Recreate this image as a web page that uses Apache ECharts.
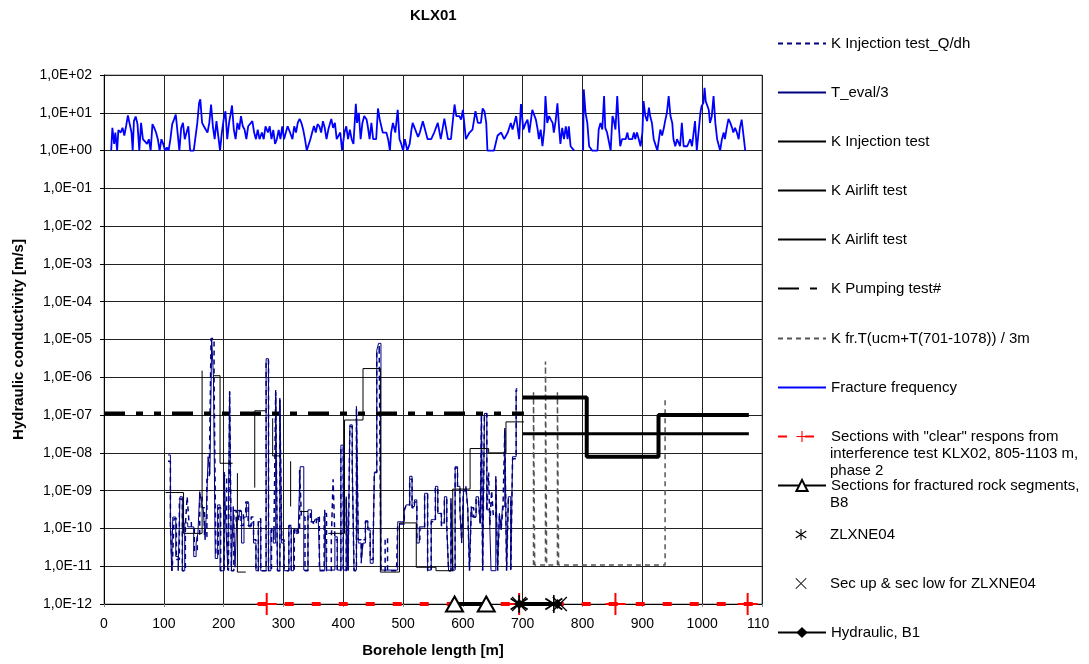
<!DOCTYPE html>
<html>
<head>
<meta charset="utf-8">
<script src="https://cdn.jsdelivr.net/npm/echarts@6/dist/echarts.min.js"></script>
<style>
html,body{margin:0;padding:0;background:#fff;}
#chart{width:1089px;height:664px;}
</style>
</head>
<body>
<div id="chart"></div>
<script>
// ---------- DATA ----------
const xTicks = [0,100,200,300,400,500,600,700,800,900,1000,1100];

// Fracture frequency (top, bright blue) [borehole length m, value]
const fractureFrequency = [
[12,1],[14,4],[17,1.5],[19,3],[22,1],[24,3.5],[28,3],[31,4],[34,2.5],[37,4.5],[40,8.5],[43,5],[46,3],[48,1],[50,6],[53,8],[56,5],[59,1],[62,5.4],[65,2],[68,2],[72,1.5],[75,2],[78,1],[81,5],[84,4],[87,3],[90,2],[93,1],[96,2],[99,1.5],[102,1],[105,1.2],[108,1],[111,2],[114,5],[117,6.6],[120,9],[123,3],[126,1],[129,4],[132,5.4],[135,2],[138,3],[141,4.4],[144,1],[147,1],[150,1],[153,1],[156,5.4],[159,18.4],[161,22.6],[164,5.4],[167,4.4],[170,3.6],[173,3],[176,5.4],[179,16.6],[182,4.4],[185,2],[188,6],[191,5.4],[194,1],[197,3],[200,6.6],[203,11],[206,2],[209,5.4],[212,10],[214,15.6],[217,3.6],[220,2],[223,5.4],[226,3.6],[229,8.2],[232,4.4],[235,3.6],[238,2],[241,4.4],[244,4],[248,6],[251,3],[254,2],[257,3.6],[260,2],[264,3],[267,2],[270,4.4],[274,3],[277,4.4],[280,2],[283,3.5],[286,1.5],[289,2],[292,3.5],[295,2],[298,4.4],[301,2],[304,3],[307,4.4],[311,3],[315,2],[318,4.4],[321,3],[324,5.5],[327,6.9],[330,5.4],[333,3.6],[336,2],[339,1],[342,1],[345,2],[348,3],[351,4.5],[354,3],[357,5],[360,4.4],[363,3],
[366,6],[369,4],[372,2],[375,3.6],[380,6.9],[383,4],[386,5.4],[389,2],[392,2],[395,3],[398,1],[402,3],[405,4.4],[408,2],[411,3.6],[414,2],[417,1.5],[421,17.4],[423,5.4],[426,10],[429,2],[432,5.4],[435,8.2],[439,6.6],[441,4.4],[444,2],[447,5.4],[450,2],[455,2],[458,13],[461,6.6],[464,6.6],[466,3],[472,3],[475,2],[478,1],[480,3],[483,5.4],[487,3],[491,12],[494,2],[497,1.5],[500,1],[503,2],[507,1],[511,1.5],[514,3.6],[516,5.4],[519,5.4],[525,2.3],[528,3],[533,6],[536,6],[541,2],[547,2],[552,3],[558,5.4],[563,2],[569,7],[575,2],[580,2],[586,16.6],[589,8.2],[594,8.2],[597,6.6],[600,12],[605,2],[611,3],[616,3.6],[621,11],[625,5.4],[630,5.4],[633,13],[636,11],[639,5.4],[641,1],[647,1],[652,1],[658,2.5],[664,3],[669,2],[675,3],[680,5.4],[683,3.6],[689,8.2],[694,2],[697,17],[701,3.6],[705,5.4],[708,6.6],[711,3],[716,12],
[719,12.3],[722,6.6],[725,3.6],[727,2],[730,3.6],[733,1.3],[736,3.6],[738,27.6],[741,5.4],[744,8.2],[747,6.6],[750,5.4],[752,3],[755,6],[758,17.7],[761,3.6],[763,1.5],[766,4],[769,2],[772,4.4],[775,2],[777,4.4],[780,1.3],[786,1],[790,null],[801,1],[802,41.5],[805,10],[808,5.4],[811,1.3],[816,1],[825,1],[827,3.6],[830,5.4],[833,3.6],[836,27.6],[838,4],[841,3],[847,1],[850,8.2],[852,6.6],[855,3.6],[858,27.6],[861,3.6],[863,1.3],[866,2],[872,2],[875,3],[877,2],[883,2],[886,3],[888,2],[891,3],[894,2],[897,1.3],[900,3],[902,20.4],[905,8.2],[908,6],[911,13.6],[913,8.2],[916,5.4],[919,2],[922,2],[925,1],[927,1],[930,3.6],[933,2.5],[936,4],[938,6],[941,10],[944,27.6],[947,8.2],[950,5.4],[952,2],[955,1.3],[958,2],[963,1.3],[966,5.4],[969,1.3],[975,1.3],[980,2],[983,1.3],[986,1.3],[988,6],[991,1],[994,1],[997,10],[999,15],[1002,18],[1004,46],[1006,20],[1008,18.4],[1011,12],[1013,5.4],[1016,8],[1019,27.6],[1022,5.4],[1025,2],[1027,2],[1030,1],[1033,2],[1036,3],[1038,2],[1041,4],[1044,6.9],[1047,5.4],[1050,4],[1052,3],[1055,4],[1058,3],[1061,2],[1063,4],[1066,6.6],[1069,6.9],[1072,1]
];

// T_eval/3 (navy solid, step)
const tEval = [
[107,8.8e-9],[111,1.5e-10],[113,7.6e-12],[115,2e-10],[120,1.8e-11],[124,7.6e-12],[127,6.9e-10],[131,7.6e-12],[135,1.4e-10],[140,1.1e-10],[145,1.1e-10],[150,1.8e-11],[154,4.1e-11],[157,7.4e-11],[160,9.4e-10],[163,4.6e-10],[166,3.1e-10],[169,5e-11],[171,2.5e-10],[174,7.9e-9],[177,2.7e-9],[180,1.07e-5],[183,1e-6],[186,1.6e-11],[190,4.2e-10],[194,7.6e-12],[201,3.1e-9],[204,9.1e-11],[207,7.9e-12],[210,4.2e-7],[213,7.9e-12],[216,3.8e-10],[219,9.4e-12],[222,2e-10],[226,2.8e-10],[230,4.1e-11],[234,2e-10],[238,4.6e-10],[242,1.1e-10],[246,1.4e-10],[250,4.1e-11],[254,7.6e-12],[258,1.5e-10],[262,7.6e-12],[271,3.1e-6],[275,7.6e-12],[279,9.1e-11],[283,4.1e-11],[287,4.6e-7],[290,7.6e-12],[294,2.8e-7],[297,4.1e-11],[301,7.6e-12],[309,1.1e-10],[313,7.6e-12],[317,9.1e-11],[321,7.4e-11],[325,1.5e-10],[328,4.3e-9],[334,7.9e-12],[341,3.1e-10],[347,1.5e-10],[352,1.7e-10],[358,2e-10],[361,7.9e-12],[369,3.1e-10],[372,7.9e-12],[386,6e-11],[390,7.9e-12],[396,1.6e-8],[400,7.9e-12],[405,6.9e-10],[408,7.9e-12],[411,5.5e-8],[415,5.3e-9],[418,7.9e-12],[422,1.7e-7],[425,4.1e-11],[430,1.2e-11],[433,4.1e-11],[437,1.6e-10],[441,9.1e-11],[445,1.2e-11],[450,4.1e-11],[452,3.1e-9],[456,5.2e-6],[459,7.9e-6],[463,7.9e-12],[491,1.5e-10],[497,1.5e-10],[502,3.1e-10],[505,4.2e-10],[511,2.4e-9],[515,3.8e-10],[519,5.7e-10],[523,4.1e-11],[527,1.1e-10],[536,8.5e-10],[541,7.9e-12],[547,1.7e-10],[554,1.3e-9],[558,2.5e-10],[564,1.4e-10],[569,6.9e-10],[573,1.1e-10],[576,7.6e-12],[580,6.3e-10],[583,7.9e-12],[587,4.3e-9],[591,1.3e-9],[595,3.1e-10],[598,4.1e-11],[601,1.05e-9],[605,1.3e-9],[608,3.8e-10],[611,7.9e-12],[614,3.8e-10],[616,2e-10],[622,6.9e-10],[626,5.7e-10],[629,1.4e-10],[631,1.1e-7],[633,7.9e-12],[636,1.1e-7],[640,3.1e-10],[645,1.1e-10],[647,7.6e-12],[655,2.4e-9],[658,7.9e-12],[661,2.5e-10],[664,9.1e-11],[666,3.8e-10],[670,4.5e-8],[673,7.9e-12],[676,6.9e-10],[680,7.9e-12],[683,7.9e-9],[686,7.9e-9],[689,5e-7],[691,5e-7]
];

// K Injection test_Q/dh (navy dashed, step)
const kInjQdh = [
[107,6e-9],[111,1.2e-10],[114,7.6e-12],[117,1.8e-10],[121,1.5e-11],[126,6e-10],[131,7.6e-12],[136,1.2e-10],[139,6.9e-10],[142,1.5e-10],[146,1e-10],[151,2.5e-11],[156,6e-11],[160,8e-10],[164,3.5e-10],[168,6e-11],[172,2e-9],[176,3e-9],[179,1.07e-5],[184,8e-7],[187,2e-11],[191,3.5e-10],[195,7.6e-12],[201,2.5e-9],[205,1e-10],[208,7.6e-12],[210,4.2e-7],[213,7.6e-12],[217,3e-10],[221,1.5e-10],[225,3e-10],[229,1.2e-10],[233,2.5e-10],[237,5e-10],[241,1.2e-10],[246,2e-10],[250,5e-11],[254,7.6e-12],[258,1.8e-10],[262,7.6e-12],[271,2.8e-6],[275,7.6e-12],[280,1e-10],[284,5e-11],[287,4e-7],[290,7.6e-12],[294,2.5e-7],[297,5e-11],[301,7.6e-12],[309,1.2e-10],[313,7.6e-12],[318,1e-10],[323,8e-11],[327,3.5e-9],[330,2e-10],[336,7.6e-12],[341,2.5e-10],[345,1.5e-10],[350,1.3e-10],[355,2e-10],[360,7.6e-12],[368,2.5e-10],[372,7.6e-12],[380,5e-11],[383,2e-9],[386,5e-11],[390,7.6e-12],[396,1.4e-8],[400,7.6e-12],[405,6e-10],[408,7.6e-12],[411,5e-8],[415,4e-9],[418,7.6e-12],[422,1.5e-7],[425,5e-11],[430,1.5e-11],[433,5e-11],[437,1.5e-10],[441,1e-10],[445,1.5e-11],[450,5e-11],[452,3e-9],[456,5e-6],[460,7e-6],[463,7.6e-12],[470,5.5e-11],[474,7.6e-12],[489,7.6e-12],[491,1.3e-10],[497,1.3e-10],[502,3e-10],[505,4e-10],[511,2e-9],[515,3.5e-10],[519,5e-10],[523,5e-11],[528,1e-10],[536,8e-10],[541,7.6e-12],[547,1.5e-10],[554,1.2e-9],[558,2.5e-10],[564,1.2e-10],[569,6e-10],[573,1.2e-10],[576,7.6e-12],[580,5e-10],[583,7.6e-12],[587,4e-9],[591,1.2e-9],[595,3e-10],[598,5e-11],[601,1e-9],[605,1.2e-9],[608,3.5e-10],[611,7.6e-12],[614,3.5e-10],[618,2e-10],[622,6e-10],[626,5e-10],[629,1.3e-10],[631,1.1e-7],[633,7.6e-12],[636,1.1e-7],[640,3e-10],[643,3e-9],[645,1.2e-10],[648,1e-9],[651,2e-10],[655,2e-9],[658,7.6e-12],[661,2.2e-10],[664,1e-10],[667,3.5e-10],[670,4e-8],[673,7.6e-12],[676,6e-10],[680,7.6e-12],[683,7e-9],[686,7e-9],[689,4.5e-7],[691,4.5e-7]
];

// K Injection test (thin black sections, step; null = gap)
const kInjection = [
[103,8.9e-10],[133,7.4e-11],[164,1.5e-6],[165,null],
[183,1.1e-6],[194,5.3e-9],[215,5.3e-9],[216,null],
[223,2.9e-9],[223,7e-12],[237,7e-12],[238,null],
[252,1.2e-9],[252,1.3e-7],[270,1.3e-7],[271,null],
[282,8.2e-8],[282,8.3e-9],[296,8.3e-9],[297,null],
[312,6e-9],[312,3.8e-10],[313,null],
[327,2.8e-10],[341,2.8e-10],[342,null],
[375,7.4e-11],[402,7.4e-8],[433,1.7e-6],[462,7e-12],[494,1.4e-10],[522,9.4e-12],[555,7.6e-12],[583,1.1e-9],[612,1.3e-8],[643,1.0e-8],[672,6.6e-8],[702,6.6e-8]
];

const kAirlift1 = [[700,2.9e-7],[807,7.9e-9],[927,1e-7],[1078,1e-7]];
const kAirlift2 = [[700,3.2e-8],[1078,3.2e-8]];
const kPumping = [[0,1.1e-7],[702,1.1e-7]];
const kFrT = [[718,1.07e-11],[718,4e-7],[720,1.07e-11],[738,2.6e-6],[740,1.07e-11],[758,4e-7],[760,1.07e-11],[938,3.1e-7],[939,3.1e-7]];

const bottomLevel = 1e-12;
const clearSectionsX = [257,272,694,855,1076,1100];
const clearSectionMarks = [false,true,true,true,true,false];
const b8SectionsX = [586,639];
const zlxne04X = [694,752];
const secUpLowX = [694,762];
const hydraulicB1X = [694,758];

const legendNames = [
 'K Injection test_Q/dh','T_eval/3','K Injection test','K Airlift test','K Airlift test ',
 'K Pumping test#','K fr.T(ucm+T(701-1078)) / 3m','Fracture frequency',
 'Sections with "clear" respons from','Sections for fractured rock segments,',
 'ZLXNE04','Sec up & sec low for ZLXNE04','Hydraulic, B1'
];
const legendExtraLines = [
 {after:8, lines:['interference test KLX02, 805-1103 m,','phase 2']},
 {after:9, lines:['B8']}
];

// ---------- CHART ----------
const FONT = '"Liberation Sans", Arial, sans-serif';
const chart = echarts.init(document.getElementById('chart'), null, {renderer:'canvas'});

const noSymbol = 'path://M0,0L1,1';
const plusPath = 'path://M9,0h2v20h-2z M0,9h20v2h-20z';
const asteriskPath = 'path://M9.2,0h1.6v20h-1.6z M1,4.6 L2,3.0 L19,15.4 L18,17 z M1,15.4 L18,3.0 L19,4.6 L2,17 z';
const xPath = 'path://M0.8,1.9 L1.9,0.8 L19.2,18.1 L18.1,19.2 z M0.8,18.1 L18.1,0.8 L19.2,1.9 L1.9,19.2 z';

const legendY = [45,94,143,192,241,290,340,389,438,487,536,585,634];
const legends = legendNames.map((n,i)=>({
  data:[n], left:777, top:legendY[i]-9, orient:'horizontal', padding:0,
  itemWidth:48, itemHeight:14, itemGap:4, selectedMode:false, z:20,
  textStyle:{fontSize:15, color:'#000', fontFamily:FONT}
}));

const graphics = [{type:'rect', shape:{x:769,y:0,width:320,height:664}, style:{fill:'#fff'}, z:10, silent:true}];
legendExtraLines.forEach(e=>{
  e.lines.forEach((t,k)=>{
    graphics.push({type:'text', left:830, top:legendY[e.after]-9+17*(k+1), z:30,
      style:{text:t, fontSize:15, fill:'#000', fontFamily:FONT}});
  });
});

function expLabel(v){
  const e = Math.round(Math.log10(v));
  const a = Math.abs(e);
  return '1,0E' + (e<0?'-':'+') + (a<10?'0':'') + a;
}

function lineSeries(name, data, color, width, type, extra){
  return Object.assign({name, type:'line', data, symbol:noSymbol, showSymbol:false,
    lineStyle:{color, width, type:type||'solid'}, itemStyle:{color}}, extra||{});
}

const option = {
  animation:false,
  backgroundColor:'#fff',
  title:{text:'KLX01', left:410, top:8, padding:0,
    textStyle:{fontSize:15, fontWeight:'bold', color:'#000', fontFamily:FONT}},
  legend:legends,
  graphic:graphics,
  grid:{left:104, right:327, top:75, bottom:60, show:true, borderColor:'#808080', borderWidth:1, backgroundColor:'transparent'},
  xAxis:{type:'value', min:0, max:1100, interval:100,
    name:'Borehole length [m]', nameLocation:'middle', nameGap:39,
    nameTextStyle:{fontSize:15, fontWeight:'bold', color:'#000', fontFamily:FONT},
    axisLine:{onZero:false, lineStyle:{color:'#000', width:1}},
    axisTick:{show:true, length:3, lineStyle:{color:'#888'}},
    axisLabel:{fontSize:14, color:'#000', fontFamily:FONT, margin:13, formatter:v=>String(v)},
    splitLine:{show:true, lineStyle:{color:'#222', width:1}}},
  yAxis:{type:'log', logBase:10, min:1e-12, max:100, interval:1, splitNumber:14,
    name:'Hydraulic conductivity [m/s]', nameLocation:'middle', nameGap:78,
    nameTextStyle:{fontSize:15, fontWeight:'bold', color:'#000', fontFamily:FONT},
    axisLine:{show:true, lineStyle:{color:'#000', width:1}},
    axisTick:{show:true, length:4, lineStyle:{color:'#000'}},
    axisLabel:{fontSize:14, color:'#000', fontFamily:FONT, margin:12, formatter:expLabel},
    splitLine:{show:true, lineStyle:{color:'#222', width:1}}},
  series:[
    lineSeries('K Injection test_Q/dh', kInjQdh, '#000080', 1.5, [5,4], {step:'end', z:3}),
    lineSeries('T_eval/3', tEval, '#000080', 1, 'solid', {step:'end', z:3}),
    lineSeries('K Injection test', kInjection, '#000', 1, 'solid', {step:'end', connectNulls:false, z:4}),
    lineSeries('K Airlift test', kAirlift1, '#000', 4, 'solid', {step:'end', z:5}),
    lineSeries('K Airlift test ', kAirlift2, '#000', 3, 'solid', {step:'end', z:5}),
    lineSeries('K Pumping test#', kPumping, '#000', 4, [21,11,7,11,7,11], {z:5}),
    lineSeries('K fr.T(ucm+T(701-1078)) / 3m', kFrT, '#555', 1.5, [5,4], {step:'end', z:4}),
    lineSeries('Fracture frequency', fractureFrequency, '#0000FF', 1.8, 'solid', {connectNulls:false, z:3}),
    {name:'Sections with "clear" respons from', type:'line', clip:false,
      data:clearSectionsX.map((x,i)=>({value:[x,bottomLevel], symbol: clearSectionMarks[i]?plusPath:'none'})),
      symbol:plusPath, symbolSize:[20,22], showSymbol:true,
      lineStyle:{color:'#FF0000', width:4, type:[9,18]}, itemStyle:{color:'#FF0000'}, z:6},
    {name:'Sections for fractured rock segments,', type:'line', clip:false,
      data:b8SectionsX.map(x=>[x,bottomLevel]), symbol:'emptyTriangle', symbolSize:[17,15],
      lineStyle:{color:'#000', width:4}, itemStyle:{color:'#000', borderWidth:1.5}, z:7},
    {name:'Hydraulic, B1', type:'line', clip:false,
      data:hydraulicB1X.map(x=>[x,bottomLevel]), symbol:'diamond', symbolSize:10,
      lineStyle:{color:'#000', width:4}, itemStyle:{color:'#000'}, z:7},
    {name:'ZLXNE04', type:'line', clip:false,
      data:zlxne04X.map(x=>[x,bottomLevel]), symbol:asteriskPath, symbolSize:18,
      lineStyle:{width:0, opacity:0}, itemStyle:{color:'#000'}, z:8},
    {name:'Sec up & sec low for ZLXNE04', type:'line', clip:false,
      data:secUpLowX.map(x=>[x,bottomLevel]), symbol:xPath, symbolSize:15,
      lineStyle:{width:0, opacity:0}, itemStyle:{color:'#000'}, z:8}
  ]
};
chart.setOption(option);
</script>
</body>
</html>
